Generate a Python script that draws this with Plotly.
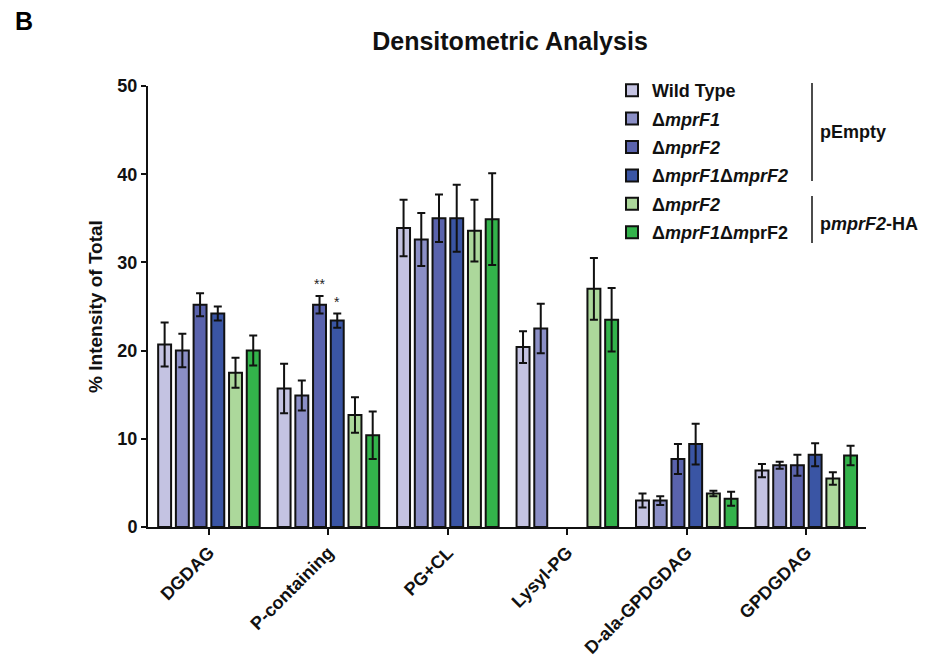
import plotly.graph_objects as go

categories = ["DGDAG", "P-containing", "PG+CL", "Lysyl-PG", "D-ala-GPDGDAG", "GPDGDAG"]

series_names = [
    "Wild Type",
    "Δ<i>mprF1</i>",
    "Δ<i>mprF2</i>",
    "Δ<i>mprF1</i>Δ<i>mprF2</i>",
    "Δ<i>mprF2</i>",
    "Δ<i>mprF1</i>Δ<i>m</i>prF2",
]

wt_vals = [20.7, 15.7, 33.9, 20.4, 3.0, 6.4]
wt_err = [2.5, 2.8, 3.2, 1.8, 0.8, 0.75]

f1_vals = [20.0, 14.9, 32.6, 22.5, 3.0, 7.0]
f1_err = [1.9, 1.7, 3.0, 2.8, 0.5, 0.4]

f2_vals = [25.2, 25.2, 35.0, None, 7.7, 7.0]
f2_err = [1.3, 1.0, 2.7, None, 1.7, 1.2]

f1f2_vals = [24.2, 23.4, 35.0, None, 9.4, 8.2]
f1f2_err = [0.8, 0.8, 3.8, None, 2.3, 1.3]

cf2_vals = [17.5, 12.7, 33.6, 27.0, 3.8, 5.5]
cf2_err = [1.7, 2.0, 3.5, 3.5, 0.3, 0.7]

cf1f2_vals = [20.0, 10.4, 34.9, 23.5, 3.2, 8.1]
cf1f2_err = [1.7, 2.7, 5.2, 3.6, 0.8, 1.1]

colors = ["#c4c3e2", "#8b8fc6", "#5a63ad", "#3a55a4", "#acd89b", "#33b34b"]

all_vals = [wt_vals, f1_vals, f2_vals, f1f2_vals, cf2_vals, cf1f2_vals]
all_errs = [wt_err, f1_err, f2_err, f1f2_err, cf2_err, cf1f2_err]

FONT = "Liberation Sans, Arial, sans-serif"

fig = go.Figure()
for i, (name, vals, errs, col) in enumerate(zip(series_names, all_vals, all_errs, colors)):
    fig.add_trace(go.Bar(
        x=categories, y=vals, name=name,
        marker=dict(color=col, line=dict(color="#111111", width=2)),
        error_y=dict(type="data", array=errs, visible=True,
                     color="#111111", thickness=2, width=4),
        legendgroup="g%d" % i,
        legendrank=i + 1,
    ))

# significance markers above ΔmprF2 and ΔmprF1ΔmprF2 bars of P-containing
fig.add_annotation(x=1 - 0.074, y=26.4, xref="x", yref="y", text="**",
                   showarrow=False, yanchor="bottom",
                   font=dict(size=14, color="#222", family=FONT))
fig.add_annotation(x=1 + 0.074, y=24.4, xref="x", yref="y", text="*",
                   showarrow=False, yanchor="bottom",
                   font=dict(size=14, color="#222", family=FONT))

L, R, T, B = 148, 67, 86, 139
W, H = 933, 666
pw, ph = W - L - R, H - T - B


def px2paper(px, py):
    return (px - L) / pw, (H - B - py) / ph


# group bracket lines and labels
for (y0p, y1p) in [(83, 181), (196, 243)]:
    x0, y0 = px2paper(812, y0p)
    _, y1 = px2paper(812, y1p)
    fig.add_shape(type="line", xref="paper", yref="paper",
                  x0=x0, x1=x0, y0=y0, y1=y1,
                  line=dict(color="#111", width=1.5))

ax, ay = px2paper(818, 132)
fig.add_annotation(x=ax, y=ay, xref="paper", yref="paper", text="<b>pEmpty</b>",
                   showarrow=False, xanchor="left", yanchor="middle",
                   font=dict(size=18, color="#111", family=FONT))
ax, ay = px2paper(818, 224)
fig.add_annotation(x=ax, y=ay, xref="paper", yref="paper",
                   text="<b>p<i>mprF2</i>-HA</b>",
                   showarrow=False, xanchor="left", yanchor="middle",
                   font=dict(size=18, color="#111", family=FONT))

# panel letter
bx, by = px2paper(13, 21)
fig.add_annotation(x=bx, y=by, xref="paper", yref="paper",
                   text="<b>B</b>", showarrow=False, xanchor="left",
                   yanchor="middle", font=dict(size=25, color="#000", family=FONT))

lx, ly = px2paper(612, 72)
fig.update_layout(
    width=W, height=H,
    margin=dict(l=L, r=R, t=T, b=B, autoexpand=False),
    paper_bgcolor="white", plot_bgcolor="white",
    title=dict(text="<b>Densitometric Analysis</b>", x=(510) / W, xanchor="center",
               y=1 - 41 / H, yanchor="middle",
               font=dict(size=25, color="#111", family=FONT)),
    barmode="group", bargap=0.11, bargroupgap=0.27,
    font=dict(family=FONT, color="#111"),
    legend=dict(x=lx, y=ly, xanchor="left", yanchor="top",
                font=dict(size=18, color="#111", family=FONT, weight="bold"),
                tracegroupgap=2, bgcolor="rgba(0,0,0,0)", itemwidth=30),
    showlegend=True,
)

fig.update_xaxes(
    type="category", range=[-0.51, 5.5], automargin=False,
    showline=True, linecolor="#111", linewidth=2,
    ticks="outside", ticklen=6, tickwidth=2, tickcolor="#111",
    tickangle=-45, tickfont=dict(size=18, color="#111", family=FONT, weight="bold"),
    showgrid=False, zeroline=False,
)
fig.update_yaxes(
    range=[0, 50], tickvals=[0, 10, 20, 30, 40, 50], automargin=False,
    showline=True, linecolor="#111", linewidth=2,
    ticks="outside", ticklen=5, tickwidth=2, tickcolor="#111",
    tickfont=dict(size=18, color="#111", family=FONT, weight="bold"),
    showgrid=False, zeroline=False,
    title=dict(text="<b>% Intensity of Total</b>", standoff=10,
               font=dict(size=19, color="#111", family=FONT)),
)

fig.write_html("out.html")
